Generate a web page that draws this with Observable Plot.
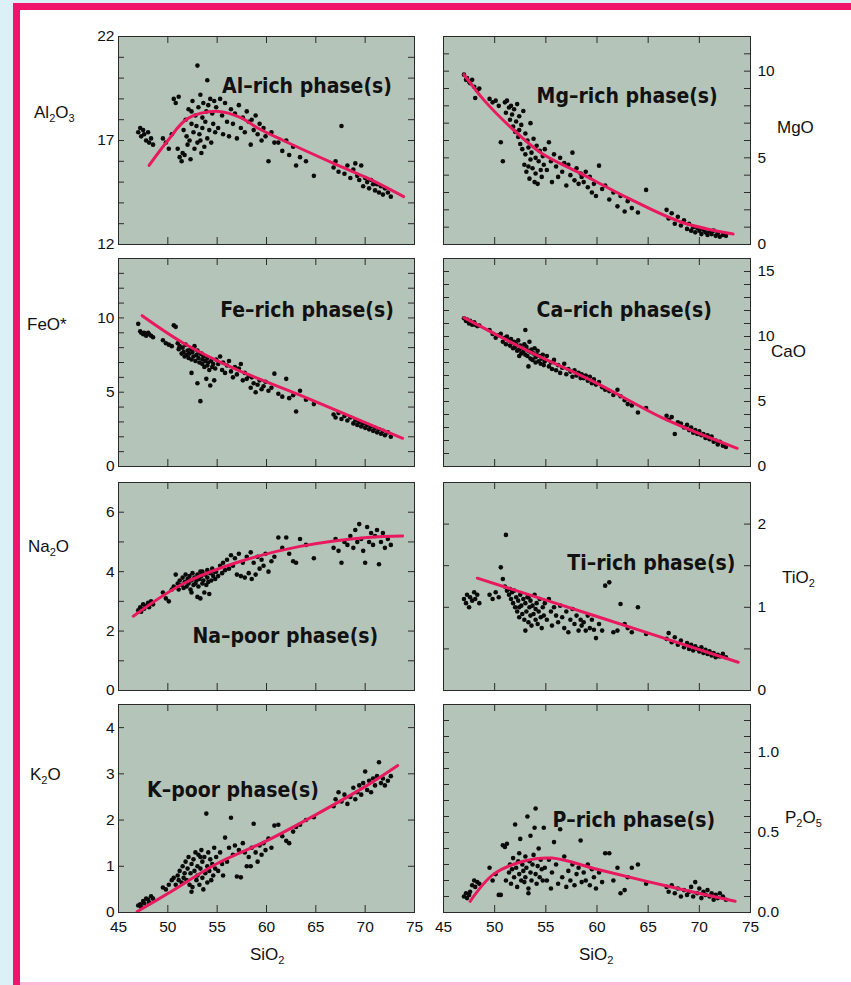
<!DOCTYPE html>
<html>
<head>
<meta charset="utf-8">
<script src="https://cdn.jsdelivr.net/npm/d3@7"></script>
<script src="https://cdn.jsdelivr.net/npm/@observablehq/plot@0.6"></script>
<style>
  html, body { margin: 0; padding: 0; background: #dcf1f7; }
  #page { position: relative; width: 851px; height: 985px; overflow: hidden; background: #dcf1f7;
          font-family: "Liberation Sans", Arial, Helvetica, sans-serif; color: #111; }
  #sheet { position: absolute; left: 20px; top: 10px; width: 831px; height: 972px; background: #ffffff; }
  .bar { position: absolute; background: #f0146c; }
  .title { position: absolute; font-size: 17px; line-height: 20px; white-space: nowrap; color: #111; }
  .title sub { font-size: 11px; vertical-align: -4px; line-height: 0; }
  #page svg g[aria-label$="tick label"] { font-size: 15.5px !important; }
  #page svg g[aria-label$="tick label"] text { font-size: 15.5px !important; }
</style>
</head>
<body>
<div id="page">
  <div id="sheet"></div>
  <div class="bar" style="left:13px;top:3px;width:838px;height:7px"></div>
  <div class="bar" style="left:13px;top:3px;width:7px;height:982px"></div>
  <div class="bar" style="left:20px;top:982px;width:831px;height:3px;background:#ffb8d4"></div>
</div>
<script>
// ---------------- DATA ----------------
const SiO2 = [
  47.0, 47.2, 47.3, 47.5, 47.6, 47.8, 48.0, 48.1, 48.3, 48.5,
  49.5, 49.8, 50.1, 50.4,
  50.6, 50.8, 51.0, 51.1, 51.2, 51.4, 51.5, 51.6, 51.7, 51.8, 51.9, 52.0, 52.1, 52.2, 52.3, 52.4, 52.5, 52.6, 52.7, 52.8,
  52.9, 53.0, 53.0, 53.1, 53.2, 53.3, 53.4, 53.5, 53.5, 53.6, 53.7, 53.8, 53.9, 54.0, 54.0, 54.1, 54.2, 54.3, 54.4, 54.5,
  54.6, 54.7, 54.8, 52.4, 53.3,
  54.9, 55.1, 55.3, 55.5, 55.6, 55.8, 56.0, 56.2, 56.4, 56.6, 56.8, 57.0, 57.2, 57.4, 57.6, 57.8, 58.0, 58.2, 58.4, 58.5,
  58.7, 58.9, 59.1, 59.3, 59.5, 59.7, 59.9, 60.2, 60.5, 60.8,
  61.2, 61.6, 62.0, 62.3, 62.7, 63.0, 63.4, 64.0, 64.8,
  66.8, 67.0, 67.3, 67.6, 67.9, 68.2, 68.5, 68.8, 69.0, 69.2, 69.4, 69.6, 69.8, 70.0, 70.2, 70.4, 70.6, 70.8, 71.0, 71.2,
  71.4, 71.6, 71.8, 72.0, 72.3, 72.6
];
const Al2O3 = [
  17.4, 17.6, 17.2, 17.5, 17.3, 17.0, 17.4, 16.9, 17.1, 16.8,
  17.1, 16.9, 16.6, 17.3,
  19.0, 18.8, 16.6, 19.1, 16.2, 16.0, 16.4, 17.5, 16.3, 18.0, 17.2, 16.8, 18.5, 17.0, 16.1, 17.8, 18.9, 17.4, 16.6, 18.2,
  17.7, 20.6, 16.9, 18.6, 17.3, 19.2, 16.4, 18.1, 17.6, 18.8, 16.7, 17.9, 18.4, 19.9, 17.1, 18.7, 17.5, 19.0, 16.9, 18.3,
  17.8, 18.9, 17.4, 18.4, 17.0,
  18.6, 17.6, 19.0, 18.2, 17.3, 18.8, 17.9, 17.2, 18.5, 17.8, 18.3, 17.1, 18.7, 17.6, 18.1, 17.4, 18.4, 17.9, 16.8, 18.0,
  17.5, 18.2, 17.3, 17.8, 17.0, 17.6, 17.2, 16.0, 17.4, 16.9,
  16.9, 16.5, 17.0, 16.3, 16.7, 15.8, 16.2, 16.0, 15.3,
  15.7, 16.0, 15.5, 17.7, 15.4, 15.8, 15.2, 15.6, 15.9, 15.3, 15.1, 15.8, 14.8, 15.2, 15.0, 14.7, 15.1, 14.9, 14.6, 14.9,
  14.5, 14.8, 14.4, 14.7, 14.5, 14.3
];
const MgO = [
  9.8, 9.5, 9.6, 9.4, 9.3, 9.5, 9.1, 8.45, 8.9, 9.0,
  8.4, 8.2, 8.3, 8.0,
  5.9, 4.8, 8.2, 7.6, 8.3, 7.9, 7.2, 8.0, 7.5, 6.8, 7.8, 6.5, 7.1, 8.1, 6.2, 7.4, 5.8, 6.9, 5.5, 7.7,
  4.6, 6.4, 5.2, 4.2, 6.0, 5.6, 3.8, 7.0, 4.9, 5.3, 4.4, 6.1, 3.6, 5.0, 4.1, 5.7, 3.5, 4.8, 5.4, 4.3,
  3.9, 5.1, 4.6, 6.6, 4.5,
  5.5, 4.3, 5.9, 4.8, 3.6, 5.2, 4.5, 3.9, 5.0, 4.2, 4.7, 3.4, 4.6, 4.0, 5.3, 3.7, 4.4, 3.5, 4.1, 3.9,
  3.6, 4.2, 3.3, 3.9, 3.0, 3.5, 2.8, 4.55, 3.2, 3.4,
  2.6, 3.0, 2.2, 2.8, 1.9, 2.5, 2.1, 1.85, 3.15,
  2.0, 1.5, 1.8, 1.2, 1.6, 1.1, 1.4, 0.9, 1.2, 0.8, 1.0, 0.7, 0.95, 0.8, 0.6, 0.85, 0.7, 0.55, 0.75, 0.6,
  0.8, 0.5, 0.65, 0.45, 0.55, 0.5
];
const FeO = [
  9.6, 9.1, 9.0, 8.9, 9.0, 8.8, 9.0, 8.9, 8.8, 8.7,
  8.5, 8.3, 8.2, 8.1,
  9.5, 9.4, 8.3, 7.9, 8.1, 7.6, 8.0, 7.7, 7.4, 8.2, 7.5, 7.8, 7.3, 7.6, 7.9, 7.2, 7.7, 7.4, 8.1, 7.1,
  7.5, 5.6, 7.8, 7.3, 7.0, 4.4, 7.6, 7.2, 6.9, 7.4, 6.7, 7.1, 5.9, 7.3, 6.8, 7.0, 6.5, 5.45, 7.1, 6.7,
  6.9, 5.8, 6.6, 6.3, 7.6,
  7.2, 6.9, 7.4, 6.5, 7.0, 6.3, 6.8, 7.1, 6.4, 6.0, 6.7, 6.2, 6.6, 6.9, 5.8, 6.3, 5.9, 6.1, 5.3, 6.0,
  5.6, 5.0, 5.5, 5.8, 5.2, 5.4, 5.7, 5.1, 5.3, 6.25,
  4.9, 4.7, 5.9, 4.6, 4.8, 3.7, 5.1, 4.5, 4.2,
  3.5, 3.3, 3.6, 3.2, 3.4, 3.1, 3.3, 2.9, 3.1, 2.8, 3.0, 2.7, 2.9, 2.6, 2.8, 2.5, 2.7, 2.4, 2.6, 2.3,
  2.5, 2.2, 2.4, 2.1, 2.3, 2.0
];
const CaO = [
  11.4, 11.2, 11.3, 11.0, 11.2, 10.9, 11.1, 10.9, 10.8, 10.85,
  10.5, 10.2, 9.9, 10.1,
  10.2, 9.6, 9.9, 9.4, 10.0, 9.7, 9.3, 9.8, 9.5, 9.1, 9.6, 9.2, 9.4, 8.9, 9.7, 9.0, 9.3, 8.7, 9.1, 8.8,
  9.4, 10.5, 8.6, 9.2, 8.5, 8.9, 9.6, 8.3, 8.8, 9.0, 8.2, 8.7, 9.1, 8.4, 8.0, 8.6, 8.9, 8.1, 8.5, 7.9,
  8.3, 8.6, 7.8, 8.5, 7.7,
  8.1, 8.5, 7.7, 8.0, 7.5, 8.2, 7.4, 7.8, 7.2, 7.6, 7.9, 7.1, 7.5, 7.3, 6.9, 7.4, 7.0, 7.2, 6.8, 7.1,
  6.8, 7.0, 6.6, 6.9, 6.4, 6.7, 6.3, 6.5, 6.1, 5.9,
  5.8, 5.5, 5.9, 5.4, 5.1, 4.8, 4.7, 4.15, 4.5,
  3.9, 3.6, 3.8, 2.5, 3.4, 3.3, 3.0, 3.2, 2.8, 3.0, 2.6, 2.8, 2.5, 2.7, 2.4, 2.5, 2.2, 2.4, 2.1, 2.3,
  1.9, 2.0, 1.7, 1.9, 1.6, 1.5
];
const Na2O = [
  2.7, 2.8, 2.65, 2.9, 2.75, 2.85, 2.95, 2.8, 3.0, 2.9,
  3.3, 3.1, 3.0, 3.4,
  3.5, 3.9, 3.6, 3.4, 3.7, 3.55, 3.8, 3.45, 3.65, 3.9, 3.5, 3.75, 3.6, 3.85, 3.4, 3.7, 3.95, 3.55, 3.8, 3.6,
  3.7, 3.15, 3.9, 3.5, 3.75, 3.1, 3.85, 3.6, 4.0, 3.7, 3.3, 3.9, 3.55, 3.8, 4.05, 3.65, 3.25, 3.95, 3.7, 4.1,
  3.85, 4.0, 3.75, 3.3, 4.0,
  4.0, 3.85, 4.2, 3.95, 4.3, 4.05, 4.4, 4.1, 4.55, 4.2, 4.45, 3.9, 4.6, 3.85, 4.3, 3.8, 4.5, 3.95, 4.65, 3.75,
  4.3, 3.9, 4.5, 4.1, 4.4, 4.2, 4.6, 4.0, 4.35, 4.5,
  5.15, 4.8, 5.15, 4.6, 4.35, 4.3, 5.1, 4.9, 4.45,
  4.8, 5.1, 4.7, 4.3, 5.0, 4.9, 5.2, 4.8, 5.4, 5.0, 5.6, 5.1, 4.7, 4.3, 5.5, 5.0, 5.3, 4.9, 5.2, 5.4,
  4.25, 5.0, 5.3, 4.8, 5.1, 4.9
];
const TiO2 = [
  1.1, 1.05, 1.15, 1.0, 1.12, 1.08, 1.18, 1.1, 1.15, 1.05,
  1.15, 1.1, 1.18, 1.12,
  1.48, 1.34, 1.25, 1.87, 1.2, 1.15, 1.22, 1.1, 1.18, 1.05, 1.2, 1.0, 1.12, 0.95, 1.08, 0.88, 1.15, 1.02, 0.92, 1.1,
  0.85, 0.72, 1.05, 0.95, 1.12, 0.82, 1.0, 0.9, 1.08, 0.78, 1.02, 0.92, 1.15, 0.85, 0.98, 1.05, 0.8, 0.95, 1.1, 0.88,
  0.75, 1.0, 0.9, 1.0, 1.12,
  1.05, 0.85, 1.1, 0.95, 0.78, 1.0, 0.9, 0.82, 1.02, 0.88, 0.75, 0.95, 0.7, 0.85, 0.98, 0.8, 0.9, 0.72, 0.85, 0.78,
  0.82, 0.72, 0.9, 0.75, 0.85, 0.73, 0.63, 0.8, 0.72, 1.26,
  1.3, 0.7, 0.72, 1.04, 0.8, 0.75, 0.7, 1.0, 0.68,
  0.62, 0.69, 0.58, 0.64, 0.55, 0.6, 0.52, 0.57, 0.5, 0.55, 0.48, 0.53, 0.5, 0.47, 0.52, 0.45, 0.49, 0.44, 0.47, 0.42,
  0.45, 0.4, 0.43, 0.41, 0.44, 0.4
];
const K2O = [
  0.15, 0.18, 0.12, 0.25, 0.2, 0.3, 0.28, 0.22, 0.35, 0.3,
  0.54, 0.5, 0.6, 0.7,
  0.75, 0.6, 0.8, 0.7, 0.9, 0.65, 1.0, 0.75, 0.85, 1.1, 0.7, 0.95, 1.2, 0.6, 0.85, 1.05, 0.55, 1.15, 0.9, 1.3,
  0.7, 1.0, 0.8, 1.25, 0.6, 0.95, 1.35, 0.75, 1.1, 0.5, 1.2, 0.85, 2.14, 1.0, 0.65, 1.3, 0.9, 1.15, 0.7, 1.05,
  0.8, 1.4, 0.95, 0.45, 1.2,
  1.2, 0.9, 1.3, 1.05, 0.8, 1.62, 1.1, 1.4, 2.05, 1.25, 1.45, 0.78, 1.35, 0.76, 1.5, 1.3, 1.0, 1.2, 1.0, 1.4,
  1.92, 1.3, 1.1, 1.45, 1.25, 1.5, 1.35, 1.6, 1.4, 1.88,
  1.9, 1.65, 1.55, 1.5, 1.75, 1.85, 1.9, 2.0, 2.06,
  2.3, 2.45, 2.6, 2.4, 2.55, 2.35, 2.5, 2.7, 2.45, 2.6, 2.75, 2.55, 2.8, 3.05, 2.65, 2.85, 2.6, 2.9, 2.75, 2.95,
  3.25, 2.8, 2.9, 2.75, 2.85, 2.95
];
const P2O5 = [
  0.1, 0.12, 0.09, 0.11, 0.13, 0.17, 0.2, 0.16, 0.19, 0.18,
  0.28, 0.2, 0.24, 0.11,
  0.11, 0.42, 0.41, 0.2, 0.43, 0.25, 0.3, 0.18, 0.27, 0.34, 0.22, 0.55, 0.28, 0.16, 0.32, 0.24, 0.46, 0.2, 0.3, 0.26,
  0.19, 0.35, 0.22, 0.28, 0.6, 0.15, 0.32, 0.25, 0.48, 0.2, 0.3, 0.36, 0.53, 0.65, 0.24, 0.18, 0.29, 0.4, 0.22, 0.33,
  0.27, 0.2, 0.53, 0.37, 0.12,
  0.28, 0.2, 0.33, 0.15, 0.25, 0.44, 0.3, 0.18, 0.52, 0.22, 0.35, 0.16, 0.26, 0.2, 0.3, 0.17, 0.24, 0.28, 0.45, 0.19,
  0.25, 0.2, 0.3, 0.17, 0.27, 0.22, 0.15, 0.25, 0.19, 0.37,
  0.37, 0.2, 0.28, 0.12, 0.14, 0.22, 0.28, 0.3, 0.18,
  0.16, 0.13, 0.17, 0.12, 0.15, 0.1, 0.14, 0.11, 0.13, 0.16, 0.1, 0.19, 0.12, 0.15, 0.09, 0.13, 0.11, 0.14, 0.1, 0.12,
  0.08, 0.11, 0.09, 0.12, 0.1, 0.08
];

// Fitted trend curves (SiO2, oxide) knots
const alCurve = [[48.1,15.8],[50,17.0],[52,18.05],[55.1,18.4],[57.4,18.1],[59.1,17.6],[61.7,17.0],[66.8,15.9],[70.2,15.2],[73.9,14.3]];
const mgCurve = [[47,9.8],[49,8.3],[51.5,6.8],[54.5,5.3],[58.4,4.1],[63.3,2.6],[68.2,1.3],[73.3,0.6]];
const feCurve = [[47.4,10.15],[51.6,8.3],[56.7,6.6],[63.4,4.8],[70.2,2.9],[73.8,1.9]];
const caCurve = [[47,11.45],[53.5,8.8],[60,6.4],[66.5,3.7],[73.7,1.4]];
const naCurve = [[46.5,2.5],[51.6,3.6],[57.4,4.35],[63.4,4.85],[70.2,5.15],[73.8,5.2]];
const tiCurve = [[48.3,1.35],[60,0.89],[73.8,0.34]];
const kCurve  = [[46.9,0.02],[50,0.41],[55,1.06],[60.1,1.56],[65.2,2.14],[70.2,2.75],[73.3,3.18]];
const pCurve  = [[47.6,0.07],[49.9,0.24],[52.8,0.32],[55.6,0.34],[60,0.27],[66.5,0.17],[73.5,0.07]];

const NOTES = ["Al–rich phase(s)", "Mg–rich phase(s)", "Fe–rich phase(s)", "Ca–rich phase(s)",
               "Na–poor phase(s)", "Ti–rich phase(s)", "K–poor phase(s)", "P–rich phase(s)"];

const xTicks  = [50, 55, 60, 65, 70];
const xLabels = [45, 50, 55, 60, 65, 70, 75];

const yLabelsAl = [12, 17, 22], yTicksAl = [13,14,15,16,17,18,19,20,21];
const yLabelsMg = [0, 5, 10],   yTicksMg = [1,2,3,4,5,6,7,8,9,10,11];
const yLabelsFe = [0, 5, 10],   yTicksFe = [1,2,3,4,5,6,7,8,9,10,11,12,13];
const yLabelsCa = [0, 5, 10, 15], yTicksCa = [1,2,3,4,5,6,7,8,9,10,11,12,13,14,15];
const yLabelsNa = [0, 2, 4, 6], yTicksNa = [1,2,3,4,5,6];
const yLabelsTi = [0, 1, 2],    yTicksTi = [0.5,1,1.5,2];
const yLabelsK  = [0, 1, 2, 3, 4], yTicksK = [1,2,3,4];
const yLabelsP  = [0, 0.5, 1.0], yTicksP = [0.1,0.2,0.3,0.4,0.5,0.6,0.7,0.8,0.9,1.0,1.1,1.2];

// ---------------- TABLE ----------------
const samples = SiO2.map((s, i) => ({
  SiO2: s, Al2O3: Al2O3[i], MgO: MgO[i], FeO: FeO[i], CaO: CaO[i],
  Na2O: Na2O[i], TiO2: TiO2[i], K2O: K2O[i], P2O5: P2O5[i]
}));

// ---------------- LAYOUT / STYLE ----------------
const PANEL_FILL = "#b5c4b9";
const CURVE = "#e8195f";
const TICK = "#2b2b2b";
const COLS = [{x: 118, w: 296}, {x: 443, w: 307}];
const ROW_TOP = [36, 258, 482, 704];
const PANEL_H = 208;

const panels = [
  {key: "Al2O3", col: 0, row: 0, domain: [12, 22], ticks: yTicksAl, labels: yLabelsAl, curve: alCurve, note: NOTES[0], nx: 55.5, ny: 19.6},
  {key: "MgO",   col: 1, row: 0, domain: [0, 12],  ticks: yTicksMg, labels: yLabelsMg, curve: mgCurve, note: NOTES[1], nx: 54.1, ny: 8.55},
  {key: "FeO",   col: 0, row: 1, domain: [0, 14],  ticks: yTicksFe, labels: yLabelsFe, curve: feCurve, note: NOTES[2], nx: 55.3, ny: 10.5},
  {key: "CaO",   col: 1, row: 1, domain: [0, 16],  ticks: yTicksCa, labels: yLabelsCa, curve: caCurve, note: NOTES[3], nx: 54.1, ny: 12.0},
  {key: "Na2O",  col: 0, row: 2, domain: [0, 7],   ticks: yTicksNa, labels: yLabelsNa, curve: naCurve, note: NOTES[4], nx: 52.5, ny: 1.83},
  {key: "TiO2",  col: 1, row: 2, domain: [0, 2.5], ticks: yTicksTi, labels: yLabelsTi, curve: tiCurve, note: NOTES[5], nx: 57.1, ny: 1.53},
  {key: "K2O",   col: 0, row: 3, domain: [0, 4.5], ticks: yTicksK,  labels: yLabelsK,  curve: kCurve,  note: NOTES[6], nx: 47.9, ny: 2.64},
  {key: "P2O5",  col: 1, row: 3, domain: [0, 1.3], ticks: yTicksP,  labels: yLabelsP,  curve: pCurve,  note: NOTES[7], nx: 55.65, ny: 0.576, fmt: d3.format(".1f")}
];

function makePanel(c) {
  const g = COLS[c.col];
  const bottom = c.row === 3;
  const mL = c.col === 0 ? 44 : 8, mR = c.col === 0 ? 8 : 44;
  const mT = 8, mB = bottom ? 36 : 8;
  const W = mL + g.w + mR, H = mT + PANEL_H + mB;
  const marks = [
    Plot.frame({fill: PANEL_FILL}),
    Plot.tickY(c.ticks, {stroke: TICK, insetRight: g.w - 6}),
    Plot.tickY(c.ticks, {stroke: TICK, insetLeft: g.w - 6}),
    Plot.tickX(xTicks, {stroke: TICK, insetBottom: PANEL_H - 7}),
    Plot.tickX(xTicks, {stroke: TICK, insetTop: PANEL_H - 7}),
    Plot.dot(samples, {x: "SiO2", y: c.key, r: 2.3, fill: "#0a0a0a", stroke: null}),
    Plot.line(c.curve, {x: d => d[0], y: d => d[1], stroke: CURVE, strokeWidth: 3, curve: "catmull-rom"}),
    Plot.text([c.note], {x: () => c.nx, y: () => c.ny, text: d => d, textAnchor: "start",
      fontSize: 21, fontWeight: "bold", fontFamily: "'DejaVu Sans Condensed', 'DejaVu Sans', sans-serif", fill: "#111"}),
    Plot.axisY(c.labels, {anchor: c.col === 0 ? "left" : "right", tickSize: 0, tickPadding: c.col === 0 ? 4 : 7,
      label: null, tickFormat: c.fmt || (d => String(d))}),
    Plot.frame({stroke: "#2a2a2a", strokeWidth: 1})
  ];
  if (bottom) {
    marks.push(Plot.axisX(xLabels, {anchor: "bottom", tickSize: 0, tickPadding: 8, label: null}));
  }
  const svg = Plot.plot({
    width: W, height: H,
    marginLeft: mL, marginRight: mR, marginTop: mT, marginBottom: mB,
    x: {domain: [45, 75], axis: null},
    y: {domain: c.domain, axis: null},
    style: {fontFamily: "'Liberation Sans', Arial, Helvetica, sans-serif", fontSize: "15.5px", color: "#111", background: "transparent", overflow: "visible"},
    marks
  });
  svg.style.position = "absolute";
  svg.style.left = (g.x - mL) + "px";
  svg.style.top = (ROW_TOP[c.row] - mT) + "px";
  return svg;
}

const page = document.getElementById("page");
for (const c of panels) page.appendChild(makePanel(c));

// axis titles (with subscripts)
const titles = [
  {html: "Al<sub>2</sub>O<sub>3</sub>", left: 34, cy: 113},
  {html: "MgO", left: 777, cy: 128},
  {html: "FeO*", left: 27, cy: 325},
  {html: "CaO", left: 771, cy: 352},
  {html: "Na<sub>2</sub>O", left: 28, cy: 547},
  {html: "TiO<sub>2</sub>", left: 782, cy: 578},
  {html: "K<sub>2</sub>O", left: 30, cy: 775},
  {html: "P<sub>2</sub>O<sub>5</sub>", left: 785, cy: 818},
  {html: "SiO<sub>2</sub>", left: 250, cy: 955},
  {html: "SiO<sub>2</sub>", left: 579, cy: 955}
];
for (const t of titles) {
  const d = document.createElement("div");
  d.className = "title";
  d.innerHTML = t.html;
  d.style.left = t.left + "px";
  d.style.top = (t.cy - 10) + "px";
  page.appendChild(d);
}
</script>
</body>
</html>
